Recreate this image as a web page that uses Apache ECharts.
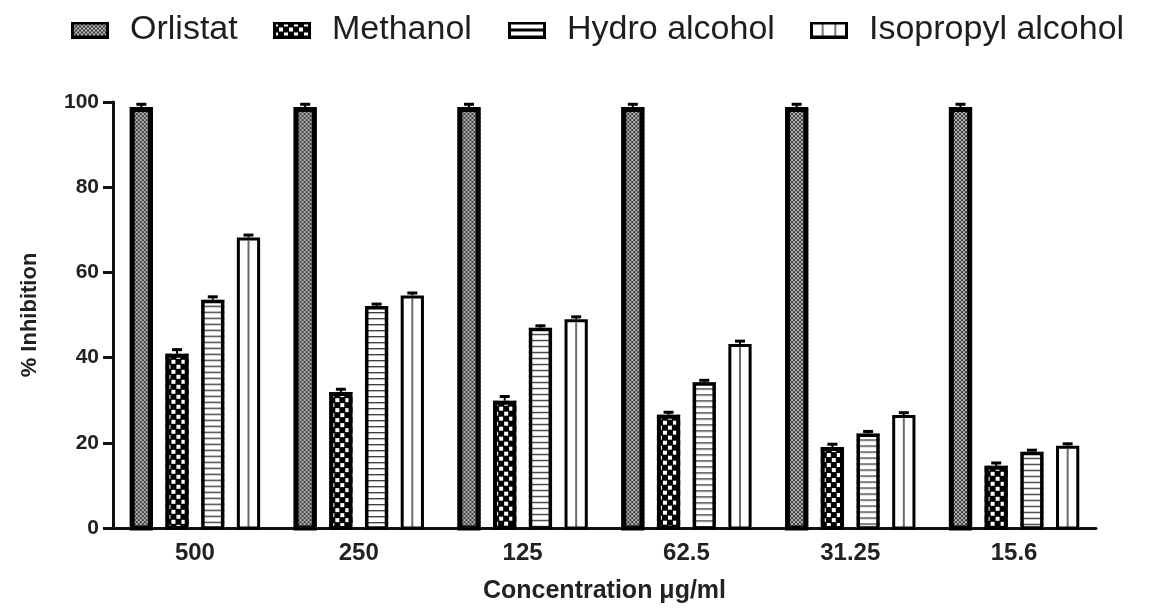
<!DOCTYPE html>
<html><head><meta charset="utf-8">
<script src="https://cdn.jsdelivr.net/npm/echarts@6/dist/echarts.min.js"></script>
<style>html,body{margin:0;padding:0;background:#fff}#c{width:1162px;height:609px}</style>
</head><body><div id="c"></div>
<script>
// ---- data ----
const categories = ['500', '250', '125', '62.5', '31.25', '15.6'];
const seriesNames = ['Orlistat', 'Methanol', 'Hydro alcohol', 'Isopropyl alcohol'];
const orlistat = [98.8, 98.8, 98.8, 98.8, 98.8, 98.8];
const methanol = [40.9, 31.9, 29.9, 26.6, 19.0, 14.6];
const hydro = [53.6, 52.1, 47.0, 34.2, 22.2, 17.9];
const isopropyl = [68.2, 54.6, 49.0, 43.2, 26.5, 19.3];
const orlistatErr = [0.9, 0.9, 0.9, 0.9, 0.9, 0.9];
const methanolErr = [1.2, 0.9, 1.2, 0.8, 0.9, 0.9];
const hydroErr = [0.9, 0.7, 0.7, 0.7, 0.7, 0.6];
const isopropylErr = [0.8, 0.8, 0.8, 0.9, 0.8, 0.7];
const yMin = 0, yMax = 100, yStep = 20;

// ---- patterns ----
function makeCanvas(w, h, draw) {
  const c = document.createElement('canvas'); c.width = w; c.height = h;
  draw(c.getContext('2d'), w, h); return c;
}
const tileOrlistat = makeCanvas(4, 4, (g) => {
  g.fillStyle = '#b8b8b8'; g.fillRect(0, 0, 4, 4);
  g.fillStyle = '#3a3a3a'; g.fillRect(0, 0, 2, 2); g.fillRect(2, 2, 2, 2);
});
const tileMethanol = makeCanvas(10, 10, (g) => {
  g.fillStyle = '#000'; g.fillRect(0, 0, 10, 10);
  g.fillStyle = '#fff'; g.fillRect(1, 1, 4, 4); g.fillRect(6, 6, 4, 4);
});
const tileHydro = makeCanvas(8, 6, (g) => {
  g.fillStyle = '#fff'; g.fillRect(0, 0, 8, 6);
  g.fillStyle = '#333'; g.fillRect(0, 0, 8, 1.3);
});
const tileIso = makeCanvas(4, 4, (g) => { g.fillStyle = '#fff'; g.fillRect(0, 0, 4, 4); });
const tiles = [tileOrlistat, tileMethanol, tileHydro, tileIso];
const borderW = [5, 4, 3.5, 3];

// legend icons
function legendIcon(i) {
  return makeCanvas(38, 17, (g, w, h) => {
    if (i === 0 || i === 1) {
      g.fillStyle = g.createPattern(tiles[i], 'repeat'); g.fillRect(0, 0, w, h);
    } else {
      g.fillStyle = '#fff'; g.fillRect(0, 0, w, h);
    }
    g.strokeStyle = '#000'; g.lineWidth = 3;
    if (i === 2) { g.beginPath(); g.moveTo(0, h / 2); g.lineTo(w, h / 2); g.stroke(); }
    if (i === 3) {
      g.strokeStyle = '#777'; g.lineWidth = 2;
      g.beginPath(); g.moveTo(w / 3, 0); g.lineTo(w / 3, h); g.moveTo(2 * w / 3, 0); g.lineTo(2 * w / 3, h); g.stroke();
      g.strokeStyle = '#000'; g.lineWidth = 3;
    }
    g.strokeRect(1.5, 1.5, w - 3, h - 3);
  }).toDataURL();
}

const values = [orlistat, methanol, hydro, isopropyl];
const errs = [orlistatErr, methanolErr, hydroErr, isopropylErr];

function makeRender(idx) {
  return function (params, api) {
    const ci = api.value(0), v = api.value(1), e = api.value(2);
    const base = api.coord([ci, 0]);
    const top = api.coord([ci, v]);
    const errY = api.coord([ci, v + e])[1] - top[1];
    const band = api.size([1, 0])[0];
    const pitch = band * 0.218, bw = band * 0.142;
    const cx = base[0] + (idx - 1.5) * pitch;
    const h = base[1] - top[1];
    const lw = borderW[idx];
    const children = [
      { type: 'rect', shape: { x: 0, y: 0, width: bw, height: h },
        style: { fill: { image: tiles[idx], repeat: 'repeat' } } }
    ];
    if (idx === 3) {
      children.push({ type: 'line', shape: { x1: bw / 2, y1: lw, x2: bw / 2, y2: h },
        style: { stroke: '#6a6a6a', lineWidth: 2 } });
    }
    children.push({ type: 'rect', shape: { x: lw / 2, y: lw / 2, width: bw - lw, height: h - lw / 2 },
      style: { fill: 'none', stroke: '#000', lineWidth: lw } });
    children.push({ type: 'line', shape: { x1: bw / 2, y1: 0, x2: bw / 2, y2: errY },
      style: { stroke: '#000', lineWidth: 2 } });
    children.push({ type: 'line', shape: { x1: bw / 2 - 5, y1: errY + 1, x2: bw / 2 + 5, y2: errY + 1 },
      style: { stroke: '#000', lineWidth: 3 } });
    return { type: 'group', x: cx - bw / 2, y: top[1], children };
  };
}

const legendLeft = [71, 273, 508, 810];
const font = 'Liberation Sans, Arial, sans-serif';
const chart = echarts.init(document.getElementById('c'), null, { renderer: 'canvas' });
chart.setOption({
  animation: false,
  backgroundColor: '#fff',
  legend: seriesNames.map((n, i) => ({
    data: [{ name: n, icon: 'image://' + legendIcon(i) }],
    left: legendLeft[i], top: 13, padding: 0,
    itemWidth: 38, itemHeight: 17, selectedMode: false,
    textStyle: { fontSize: 34, fontFamily: font, color: '#1e1e1e', padding: [0, 0, 0, 16] }
  })),
  grid: { left: 113, right: 66, top: 102, bottom: 78 },
  xAxis: {
    type: 'category', data: categories,
    axisLine: { lineStyle: { color: '#111', width: 3 } },
    axisTick: { alignWithLabel: true, length: 7, lineStyle: { color: '#111', width: 3 } },
    axisLabel: { fontSize: 24, fontWeight: 'bold', fontFamily: font, color: '#222', margin: 13 },
    name: 'Concentration μg/ml', nameLocation: 'middle', nameGap: 51,
    nameTextStyle: { fontSize: 25, fontWeight: 'bold', fontFamily: font, color: '#222' }
  },
  yAxis: {
    type: 'value', min: yMin, max: yMax, interval: yStep,
    axisLine: { show: true, lineStyle: { color: '#111', width: 3 } },
    axisTick: { show: true, length: 10, lineStyle: { color: '#111', width: 3 } },
    splitLine: { show: false },
    axisLabel: { fontSize: 21, fontWeight: 'bold', fontFamily: font, color: '#222', margin: 14 },
    name: '% Inhibition', nameLocation: 'middle', nameGap: 72,
    nameTextStyle: { fontSize: 22, fontWeight: 'bold', fontFamily: font, color: '#222' }
  },
  series: seriesNames.map((n, i) => ({
    name: n, type: 'custom',
    renderItem: makeRender(i),
    encode: { x: 0, y: 1 },
    data: categories.map((c, k) => [k, values[i][k], errs[i][k]]),
    z: 3
  }))
});
</script></body></html>
